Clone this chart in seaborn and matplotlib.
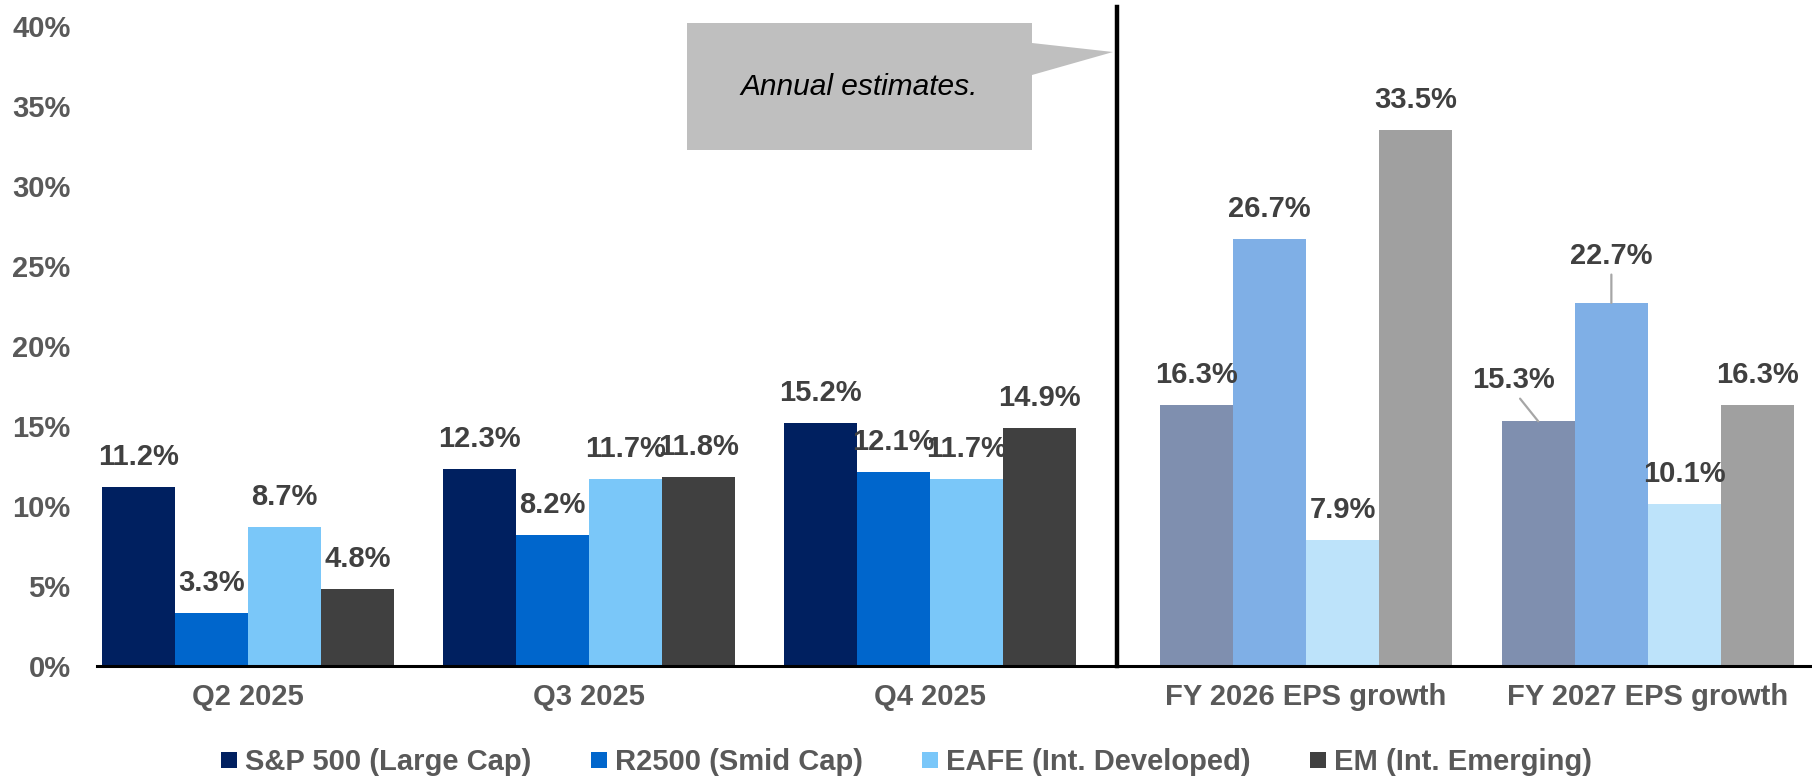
import matplotlib
matplotlib.use("Agg")
import matplotlib.pyplot as plt
from matplotlib.lines import Line2D
from matplotlib.patches import Polygon
import seaborn as sns
import pandas as pd

# ---------------- data ----------------
series = ["S&P 500 (Large Cap)", "R2500 (Smid Cap)", "EAFE (Int. Developed)", "EM (Int. Emerging)"]
quarters = ["Q2 2025", "Q3 2025", "Q4 2025"]
annual = ["FY 2026 EPS growth", "FY 2027 EPS growth"]

sp500_q = [11.2, 12.3, 15.2]
r2500_q = [3.3, 8.2, 12.1]
eafe_q = [8.7, 11.7, 11.7]
em_q = [4.8, 11.8, 14.9]

sp500_a = [16.3, 15.3]
r2500_a = [26.7, 22.7]
eafe_a = [7.9, 10.1]
em_a = [33.5, 16.3]

y_ticks = [0, 5, 10, 15, 20, 25, 30, 35, 40]
callout_text = "Annual estimates."

q_colors = ["#002060", "#0066CC", "#7AC7F9", "#404040"]
a_colors = ["#7F8FAF", "#7FAFE6", "#BDE3FA", "#A0A0A0"]

# ---------------- tables ----------------
def long_table(cats, cols):
    rows = []
    for s, vals in zip(series, cols):
        for c, v in zip(cats, vals):
            rows.append({"period": c, "series": s, "value": v})
    return pd.DataFrame(rows)

df_q = long_table(quarters, [sp500_q, r2500_q, eafe_q, em_q])
df_a = long_table(annual, [sp500_a, r2500_a, eafe_a, em_a])

# ---------------- style ----------------
sns.set_theme(style="white")
plt.rcParams["font.family"] = ["Liberation Sans", "DejaVu Sans"]

FS = 21
TXT = "#595959"
LBL = "#404040"
W, H = 1812, 779

fig = plt.figure(figsize=(W / 100, H / 100), dpi=100)
bottom = (H - 666) / H
height = (666 - 7) / H
axL = fig.add_axes([97 / W, bottom, (1117 - 97) / W, height])
axR = fig.add_axes([1117 / W, bottom, (1810 - 1117) / W, height])

sns.barplot(data=df_q, x="period", y="value", hue="series", order=quarters,
            hue_order=series, palette=q_colors, width=0.856, saturation=1,
            linewidth=0, edgecolor="none", ax=axL, legend=False)
sns.barplot(data=df_a, x="period", y="value", hue="series", order=annual,
            hue_order=series, palette=a_colors, width=0.856, saturation=1,
            linewidth=0, edgecolor="none", ax=axR, legend=False)

for ax in (axL, axR):
    ax.set_ylim(0, 41.2)
    ax.set_xlabel("")
    ax.set_ylabel("")
    for s in ("top", "right"):
        ax.spines[s].set_visible(False)
    ax.spines["bottom"].set_color("black")
    ax.spines["bottom"].set_linewidth(2.2)
    ax.spines["bottom"].set_zorder(4)
    ax.tick_params(axis="x", length=0, pad=12, labelsize=FS, labelcolor=TXT)
    for t in ax.get_xticklabels():
        t.set_fontweight("bold")
    ax.grid(False)
    ax.set_facecolor("none")

axL.set_xlim(-0.443, 2.548)
axR.set_xlim(-0.553, 1.474)

axL.spines["left"].set_visible(False)
axL.set_yticks(y_ticks)
axL.set_yticklabels([f"{v}%" for v in y_ticks])
axL.tick_params(axis="y", length=0, pad=19, labelsize=FS, labelcolor=TXT)
for t in axL.get_yticklabels():
    t.set_fontweight("bold")

axR.spines["left"].set_color("black")
axR.spines["left"].set_linewidth(3.2)
axR.set_yticks([])

# ---------------- value labels ----------------
PX = 0.72  # pixels -> points at 100 dpi
special = {
    ("FY 2027 EPS growth", "S&P 500 (Large Cap)"): (-25, 41),
    ("FY 2027 EPS growth", "R2500 (Smid Cap)"): (0, 47),
}

def label_bars(ax, cats):
    for s, cont in zip(series, ax.containers):
        for c, bar in zip(cats, cont):
            v = bar.get_height()
            x = bar.get_x() + bar.get_width() / 2
            dx, dy = special.get((c, s), (0, 30))
            kw = {}
            if (c, s) in special:
                kw["arrowprops"] = dict(arrowstyle="-", color="#A6A6A6", lw=1.6,
                                        shrinkA=1, shrinkB=0, relpos=(0.5, 0.15))
            ax.annotate(f"{v:.1f}%", xy=(x, v), xytext=(dx * PX, dy * PX),
                        textcoords="offset points", ha="center", va="center",
                        fontsize=FS, fontweight="bold", color=LBL,
                        annotation_clip=False, **kw)

label_bars(axL, quarters)
label_bars(axR, annual)

# ---------------- callout ----------------
pts = [(687, 23), (1032, 23), (1032, 43), (1113, 52), (1032, 75), (1032, 150), (687, 150)]
poly = Polygon([(x / W, (H - y) / H) for x, y in pts], closed=True,
               transform=fig.transFigure, facecolor="#BFBFBF", edgecolor="none", zorder=5)
fig.patches.append(poly)
fig.text(859.5 / W, (H - 87) / H, callout_text, ha="center", va="center",
         fontsize=21.5, style="italic", color="black", zorder=6)

# ---------------- legend ----------------
handles = [Line2D([], [], marker="s", linestyle="", markersize=11.5,
                  markerfacecolor=c, markeredgewidth=0) for c in q_colors]
leg = fig.legend(handles, series, loc="center", bbox_to_anchor=(0.5, (H - 762) / H),
                 ncol=4, frameon=False, handlelength=0.6, handletextpad=0.25,
                 columnspacing=2.0, prop={"size": FS, "weight": "bold"})
for t in leg.get_texts():
    t.set_color(TXT)

fig.savefig("out.png", dpi=100)
